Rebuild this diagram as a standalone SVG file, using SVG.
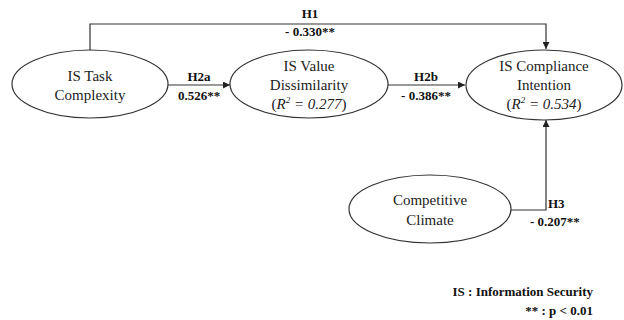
<svg xmlns="http://www.w3.org/2000/svg" width="624" height="320" viewBox="0 0 624 320">
<defs>
<marker id="ah" viewBox="0 0 10 10" refX="10" refY="5" markerWidth="7" markerHeight="7" markerUnits="userSpaceOnUse" orient="auto">
<path d="M0,0 L10,5 L0,10 z" fill="#222"/>
</marker>
</defs>
<style>
.node ellipse{fill:#fff;stroke:#333;stroke-width:1.2}
.nt{font-family:"Liberation Serif","Times New Roman",serif;font-size:15px;fill:#222;text-anchor:middle}
.it{font-style:italic}
.lb{font-family:"Liberation Serif","Times New Roman",serif;font-size:13px;font-weight:bold;fill:#111}
.edge{fill:none;stroke:#333;stroke-width:1.2;marker-end:url(#ah)}
</style>
<rect width="624" height="320" fill="#fff"/>
<g id="connectors">
<path class="edge" d="M90,51 V24 H546 V49"/>
<path class="edge" d="M168,85 H230"/>
<path class="edge" d="M388,85 H465"/>
<path class="edge" d="M511,210 H546 V120"/>
<text class="lb" x="310" y="18" text-anchor="middle">H1</text>
<text class="lb" x="310" y="36" text-anchor="middle">- 0.330**</text>
<text class="lb" x="199" y="81" text-anchor="middle">H2a</text>
<text class="lb" x="199" y="100" text-anchor="middle">0.526**</text>
<text class="lb" x="426" y="81" text-anchor="middle">H2b</text>
<text class="lb" x="426" y="100" text-anchor="middle">- 0.386**</text>
<text class="lb" x="548" y="208">H3</text>
<text class="lb" x="530" y="226">- 0.207**</text>
</g>
<g id="task" class="node">
<ellipse cx="90" cy="84" rx="78" ry="34"/>
<text class="nt" x="90" y="81">IS Task</text>
<text class="nt" x="90" y="100">Complexity</text>
</g>
<g id="value" class="node">
<ellipse cx="309" cy="84" rx="79" ry="34"/>
<text class="nt" x="309" y="71">IS Value</text>
<text class="nt" x="309" y="90">Dissimilarity</text>
<text class="nt" x="309" y="109">(<tspan class="it">R<tspan font-size="9" dy="-6">2</tspan><tspan dy="6"> = 0.277</tspan></tspan>)</text>
</g>
<g id="compliance" class="node">
<ellipse cx="544" cy="85" rx="78" ry="35"/>
<text class="nt" x="544" y="71">IS Compliance</text>
<text class="nt" x="544" y="90">Intention</text>
<text class="nt" x="544" y="109">(<tspan class="it">R<tspan font-size="9" dy="-6">2</tspan><tspan dy="6"> = 0.534</tspan></tspan>)</text>
</g>
<g id="climate" class="node">
<ellipse cx="430" cy="209" rx="81" ry="34"/>
<text class="nt" x="430" y="205">Competitive</text>
<text class="nt" x="430" y="225">Climate</text>
</g>
<g id="notes">
<text class="lb" x="593" y="296" text-anchor="end">IS : Information Security</text>
<text class="lb" x="593" y="315" text-anchor="end">** : p &lt; 0.01</text>
</g>
</svg>
